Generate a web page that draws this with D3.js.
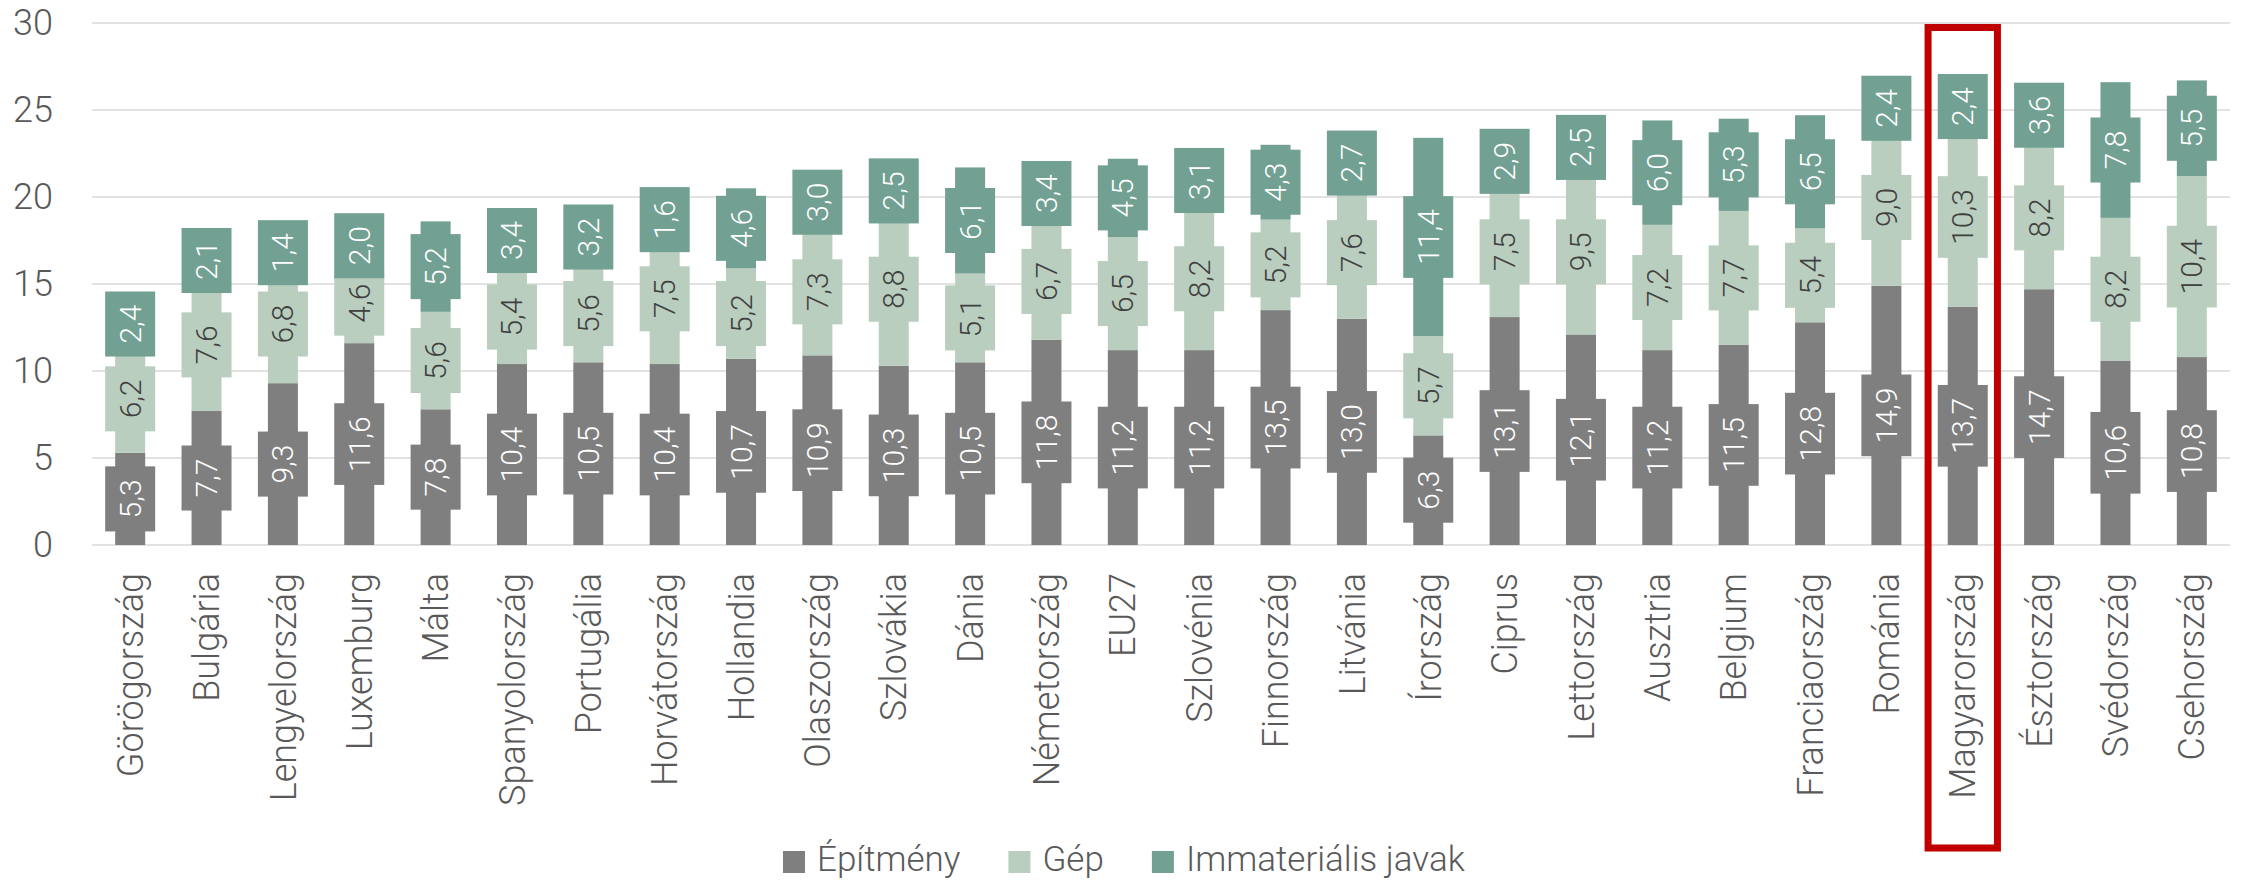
<!DOCTYPE html>
<html>
<head>
<meta charset="utf-8">
<script src="https://cdn.jsdelivr.net/npm/d3@7"></script>
<style>
  html, body { margin: 0; padding: 0; background: #fff; }
  svg { display: block; font-family: Roboto, "Noto Sans", sans-serif; font-weight: 300; }
</style>
</head>
<body>
<svg id="chart" width="2241" height="882"></svg>
<script>
// Országok (kategóriák)
const categories = [
  "Görögország", "Bulgária", "Lengyelország", "Luxemburg", "Málta", "Spanyolország",
  "Portugália", "Horvátország", "Hollandia", "Olaszország", "Szlovákia", "Dánia",
  "Németország", "EU27", "Szlovénia", "Finnország", "Litvánia", "Írország",
  "Ciprus", "Lettország", "Ausztria", "Belgium", "Franciaország", "Románia",
  "Magyarország", "Észtország", "Svédország", "Csehország"
];

// Sorozatok
const epitmeny = [5.3, 7.7, 9.3, 11.6, 7.8, 10.4, 10.5, 10.4, 10.7, 10.9, 10.3, 10.5,
  11.8, 11.2, 11.2, 13.5, 13.0, 6.3, 13.1, 12.1, 11.2, 11.5, 12.8, 14.9, 13.7, 14.7, 10.6, 10.8];
const gep = [6.2, 7.6, 6.8, 4.6, 5.6, 5.4, 5.6, 7.5, 5.2, 7.3, 8.8, 5.1,
  6.7, 6.5, 8.2, 5.2, 7.6, 5.7, 7.5, 9.5, 7.2, 7.7, 5.4, 9.0, 10.3, 8.2, 8.2, 10.4];
const immaterialis = [2.4, 2.1, 1.4, 2.0, 5.2, 3.4, 3.2, 1.6, 4.6, 3.0, 2.5, 6.1,
  3.4, 4.5, 3.1, 4.3, 2.7, 11.4, 2.9, 2.5, 6.0, 5.3, 6.5, 2.4, 2.4, 3.6, 7.8, 5.5];

const seriesNames = ["Építmény", "Gép", "Immateriális javak"];
const yTicks = [0, 5, 10, 15, 20, 25, 30];
const highlighted = "Magyarország";

const colors = ["#7f7f7f", "#b9cebe", "#72a093"];
const labelColors = ["#ffffff", "#404040", "#ffffff"];

const svg = d3.select("#chart");
const plot = { left: 92, right: 2230, top: 23, bottom: 545 };

const x = d3.scaleBand()
  .domain(categories)
  .range([plot.left, plot.right])
  .paddingInner(0.607)
  .paddingOuter(0.3035);

const y = d3.scaleLinear().domain([0, 30]).range([plot.bottom, plot.top]);

// Rácsvonalak
svg.append("g")
  .selectAll("line")
  .data(yTicks)
  .join("line")
  .attr("x1", plot.left)
  .attr("x2", plot.right)
  .attr("y1", d => y(d))
  .attr("y2", d => y(d))
  .attr("stroke", "#d9d9d9")
  .attr("stroke-width", 1.5);

// Y tengely feliratai
svg.append("g")
  .selectAll("text")
  .data(yTicks)
  .join("text")
  .attr("x", 53)
  .attr("y", d => y(d))
  .attr("text-anchor", "end")
  .attr("dominant-baseline", "central")
  .attr("fill", "#595959")
  .style("font-size", "36px")
  .text(d => d);

// Halmozott adatok
const rows = categories.map((c, i) => ({
  cat: c,
  "Építmény": epitmeny[i],
  "Gép": gep[i],
  "Immateriális javak": immaterialis[i]
}));
const stacked = d3.stack().keys(seriesNames)(rows);

// Oszlopok
const gBars = svg.append("g");
stacked.forEach((s, si) => {
  gBars.append("g")
    .attr("fill", colors[si])
    .selectAll("rect")
    .data(s)
    .join("rect")
    .attr("x", d => x(d.data.cat))
    .attr("width", x.bandwidth())
    .attr("y", d => y(d[1]))
    .attr("height", d => y(d[0]) - y(d[1]));
});

// Adatfeliratok dobozokkal
const fmt = v => v.toFixed(1).replace(".", ",");
const boxW = 50;
const gLabels = svg.append("g");
stacked.forEach((s, si) => {
  s.forEach(d => {
    const cx = x(d.data.cat) + x.bandwidth() / 2;
    const cy = y((d[0] + d[1]) / 2);
    const g = gLabels.append("g");
    const rect = g.append("rect").attr("fill", colors[si]);
    const t = g.append("text")
      .attr("transform", `translate(${cx},${cy}) rotate(-90)`)
      .attr("text-anchor", "middle")
      .attr("dy", "0.35em")
      .attr("fill", labelColors[si])
      .style("font-size", "30px")
      .text(fmt(d.data[s.key]));
    const len = t.node().getComputedTextLength();
    const h = len + 26;
    rect.attr("x", cx - boxW / 2)
      .attr("y", cy - h / 2)
      .attr("width", boxW)
      .attr("height", h);
  });
});

// X tengely feliratai
svg.append("g")
  .selectAll("text")
  .data(categories)
  .join("text")
  .attr("transform", d => `translate(${x(d) + x.bandwidth() / 2},${plot.bottom + 28}) rotate(-90)`)
  .attr("text-anchor", "end")
  .attr("dy", "0.35em")
  .attr("fill", "#595959")
  .style("font-size", "36px")
  .text(d => d);

// Kiemelés (piros keret)
const step = x.step();
svg.append("rect")
  .attr("x", x(highlighted) + x.bandwidth() / 2 - step / 2 + 3.5)
  .attr("y", 27.5)
  .attr("width", step - 7)
  .attr("height", 848 - 27.5)
  .attr("fill", "none")
  .attr("stroke", "#c00000")
  .attr("stroke-width", 7);

// Jelmagyarázat
const legend = svg.append("g").attr("transform", "translate(0,859)");
let lx = 783;
seriesNames.forEach((name, i) => {
  legend.append("rect")
    .attr("x", lx)
    .attr("y", -8)
    .attr("width", 22)
    .attr("height", 22)
    .attr("fill", colors[i]);
  const t = legend.append("text")
    .attr("x", lx + 34)
    .attr("y", 0)
    .attr("dominant-baseline", "central")
    .attr("fill", "#595959")
    .style("font-size", "35px")
    .text(name);
  lx += 34 + t.node().getComputedTextLength() + 48;
});
</script>
</body>
</html>
